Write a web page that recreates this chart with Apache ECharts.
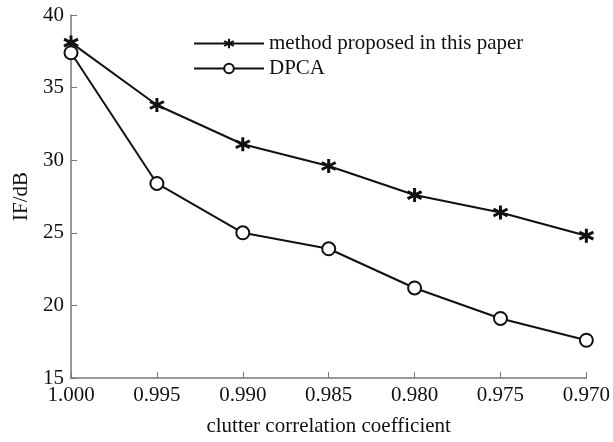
<!DOCTYPE html>
<html><head><meta charset="utf-8">
<script src="https://cdn.jsdelivr.net/npm/echarts@6/dist/echarts.min.js"></script>
<style>html,body{margin:0;padding:0;background:#fff}#c{width:613px;height:442px}</style>
</head><body><div id="c"></div>
<script>
const xValues = [1.000, 0.995, 0.990, 0.985, 0.980, 0.975, 0.970];
const proposed = [38.1, 33.8, 31.1, 29.6, 27.6, 26.4, 24.8];
const dpca = [37.4, 28.4, 25.0, 23.9, 21.2, 19.1, 17.6];
const seriesNames = ['method proposed in this paper', 'DPCA'];
const xTitle = 'clutter correlation coefficient';
const yTitle = 'IF/dB';

const font = 'Liberation Serif';
const star = 'path://M0,-10L0,10M-8.66,-5L8.66,5M-8.66,5L8.66,-5';
const chart = echarts.init(document.getElementById('c'));
chart.setOption({
  animation: false,
  grid: {left: 71, right: 24, top: 15, bottom: 59},
  legend: {
    orient: 'vertical', left: 188, top: 28, itemWidth: 70, itemHeight: 12, itemGap: 4,
    textStyle: {fontFamily: font, fontSize: 21, color: '#111'},
    data: seriesNames
  },
  xAxis: {
    type: 'value', inverse: true, min: 0.970, max: 1.000, interval: 0.005,
    name: xTitle, nameLocation: 'middle', nameGap: 38,
    nameTextStyle: {fontFamily: font, fontSize: 21, color: '#111'},
    axisLine: {lineStyle: {color: '#777', width: 1.5}},
    axisTick: {inside: true, length: 6, lineStyle: {color: '#777'}},
    splitLine: {show: false},
    axisLabel: {fontFamily: font, fontSize: 21, color: '#111', margin: 7, formatter: v => v.toFixed(3)}
  },
  yAxis: {
    type: 'value', min: 15, max: 40, interval: 5,
    name: yTitle, nameLocation: 'middle', nameGap: 39,
    nameTextStyle: {fontFamily: font, fontSize: 21, color: '#111'},
    axisLine: {show: true, lineStyle: {color: '#777', width: 1.5}},
    axisTick: {show: true, inside: true, length: 6, lineStyle: {color: '#777'}},
    splitLine: {show: false},
    axisLabel: {fontFamily: font, fontSize: 21, color: '#111', margin: 7}
  },
  series: [
    {
      name: seriesNames[0], type: 'line',
      data: xValues.map((x, i) => [x, proposed[i]]),
      symbol: star, symbolSize: 14, showAllSymbol: true,
      lineStyle: {color: '#111', width: 2},
      itemStyle: {color: '#111', borderColor: '#111', borderWidth: 3}
    },
    {
      name: seriesNames[1], type: 'line',
      data: xValues.map((x, i) => [x, dpca[i]]),
      symbol: 'emptyCircle', symbolSize: 13, showAllSymbol: true,
      lineStyle: {color: '#111', width: 2},
      itemStyle: {color: '#111', borderColor: '#111', borderWidth: 2}
    }
  ]
});
</script></body></html>
